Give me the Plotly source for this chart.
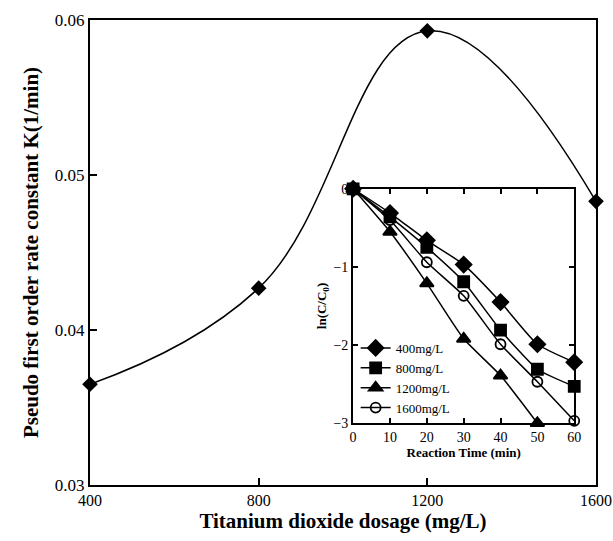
import plotly.graph_objects as go

# Main chart data
dosage = [400, 800, 1200, 1600]
rate_k = [0.0365, 0.0427, 0.0593, 0.0483]

# Inset data
time_min = [0, 10, 20, 30, 40, 50, 60]
ln_400 = [0, -0.31, -0.66, -0.97, -1.45, -1.99, -2.22]
ln_800 = [0, -0.36, -0.75, -1.19, -1.81, -2.31, -2.53]
time_1200 = [0, 10, 20, 30, 40, 50]
ln_1200 = [0, -0.55, -1.21, -1.92, -2.39, -3.0]
ln_1600 = [0, -0.40, -0.94, -1.37, -1.99, -2.47, -2.97]

main_xticks = [400, 800, 1200, 1600]
main_yticks = [0.03, 0.04, 0.05, 0.06]
inset_xticks = [0, 10, 20, 30, 40, 50, 60]
inset_yticks = [0, -1, -2, -3]

FONT = "Liberation Serif, Times New Roman, serif"

fig = go.Figure()

fig.add_trace(go.Scatter(
    x=dosage, y=rate_k, mode="lines+markers",
    line=dict(color="black", width=1.5, shape="spline", smoothing=1.2),
    marker=dict(symbol="diamond", size=12, color="black"),
    showlegend=False, cliponaxis=False, xaxis="x", yaxis="y"))

series = [
    ("400mg/L", time_min, ln_400, "diamond", 12),
    ("800mg/L", time_min, ln_800, "square", 11),
    ("1200mg/L", time_1200, ln_1200, "triangle-up", 12),
    ("1600mg/L", time_min, ln_1600, "circle-open", 10),
]
for name, xs, ys, sym, sz in series:
    fig.add_trace(go.Scatter(
        x=xs, y=ys, mode="lines+markers", name=name,
        line=dict(color="black", width=1.5, shape="spline", smoothing=0.5),
        marker=dict(symbol=sym, size=sz, color="black",
                    line=dict(color="black", width=1.8)),
        cliponaxis=False, xaxis="x2", yaxis="y2"))

fig.update_layout(
    width=613, height=541,
    margin=dict(l=90, r=17, t=20, b=56),
    paper_bgcolor="white", plot_bgcolor="white",
    font=dict(family=FONT, color="black"),
    xaxis=dict(
        range=[400, 1600], tickvals=main_xticks, automargin=False,
        ticklabeloverflow="allow",
        ticks="inside", ticklen=7, tickwidth=1.5, tickcolor="black",
        showline=True, linecolor="black", linewidth=2, mirror=True,
        showgrid=False, zeroline=False,
        tickfont=dict(size=16, family=FONT),
        title=dict(text="<b>Titanium dioxide dosage (mg/L)</b>",
                   font=dict(size=21, family=FONT), standoff=5),
    ),
    yaxis=dict(
        range=[0.03, 0.06], tickvals=main_yticks, ticktext=["0.03", "0.04", "0.05", "0.06"],
        automargin=False, ticklabeloverflow="allow",
        ticks="inside", ticklen=7, tickwidth=1.5, tickcolor="black",
        showline=True, linecolor="black", linewidth=2, mirror=True,
        showgrid=False, zeroline=False,
        tickfont=dict(size=17, family=FONT),
        title=dict(text="<b>Pseudo first order rate constant K(1/min)</b>",
                   font=dict(size=21, family=FONT), standoff=10),
    ),
    xaxis2=dict(
        domain=[0.52, 0.957], anchor="y2", range=[0, 60], tickvals=inset_xticks,
        automargin=False,
        ticks="inside", ticklen=5, tickwidth=1.5, tickcolor="black",
        showline=True, linecolor="black", linewidth=2, mirror="ticks",
        showgrid=False, zeroline=False,
        tickfont=dict(size=14, family=FONT),
        title=dict(text="<b>Reaction Time (min)</b>",
                   font=dict(size=13, family=FONT), standoff=2),
    ),
    yaxis2=dict(
        domain=[0.133, 0.637], anchor="x2", range=[-3, 0], tickvals=inset_yticks,
        automargin=False,
        ticks="inside", ticklen=5, tickwidth=1.5, tickcolor="black",
        showline=True, linecolor="black", linewidth=2, mirror="ticks",
        showgrid=False, zeroline=False,
        tickfont=dict(size=14, family=FONT),
        title=dict(text="<b>ln(C/C<sub>0</sub>)</b>",
                   font=dict(size=13, family=FONT), standoff=4),
    ),
    legend=dict(
        x=0.525, y=0.327, xanchor="left", yanchor="top",
        bgcolor="rgba(0,0,0,0)", borderwidth=0,
        font=dict(size=13, family=FONT), tracegroupgap=0,
    ),
)

fig.write_html(
    "out.html",
    config={"displayModeBar": False},
    post_script="document.body.style.margin='0';document.body.style.overflow='hidden';",
)
